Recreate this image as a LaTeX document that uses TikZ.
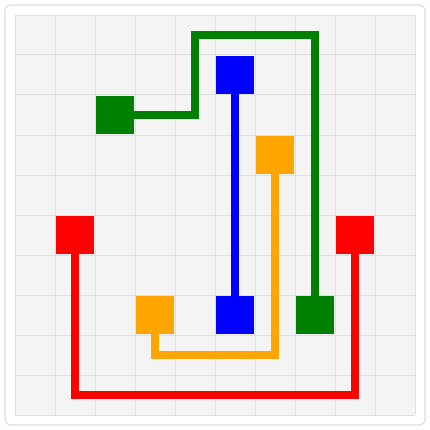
\documentclass[tikz,border=0pt]{standalone}
\usepackage{xcolor}
\usepackage{tikz}
\definecolor{cellgray}{HTML}{F4F4F4}
\definecolor{gridline}{HTML}{E0E0E0}
\definecolor{frameline}{HTML}{DDDDDD}
\definecolor{flowgreen}{HTML}{008000}
\definecolor{flowblue}{HTML}{0000FF}
\definecolor{floworange}{HTML}{FFA500}
\definecolor{flowred}{HTML}{FF0000}

\begin{document}
\begin{tikzpicture}[
    dot/.style={draw=none, minimum size=0.96cm, inner sep=0pt},
    pipe/.style={line width=0.2cm, line join=miter}
  ]
    \useasboundingbox (-0.375,-0.375) rectangle (10.375,10.375);
    \draw[frameline, line width=0.8pt, fill=white, rounded corners=0.15cm]
      (-0.25,-0.25) rectangle (10.25,10.25);
    \fill[cellgray] (0,0) rectangle (10,10);
    \draw[gridline, line width=0.7pt] (0,0) grid (10,10);
    % endpoints
    \node[dot, fill=flowgreen] (gA) at (2.5,7.5) {};
    \node[dot, fill=flowgreen] (gB) at (7.5,2.5) {};
    \node[dot, fill=flowblue] (bA) at (5.5,8.5) {};
    \node[dot, fill=flowblue] (bB) at (5.5,2.5) {};
    \node[dot, fill=floworange] (oA) at (6.5,6.5) {};
    \node[dot, fill=floworange] (oB) at (3.5,2.5) {};
    \node[dot, fill=flowred] (rA) at (1.5,4.5) {};
    \node[dot, fill=flowred] (rB) at (8.5,4.5) {};
    % bends
    \coordinate (gTurn) at (4.5,9.5);
    \coordinate (oTurn) at (3.5,1.5);
    \coordinate (rTurn) at (1.5,0.5);
    % flows
    \draw[pipe, flowgreen] (gA.east) -| (gTurn) -| (gB.north);
    \draw[pipe, flowblue] (bA.south) -- (bB.north);
    \draw[pipe, floworange] (oA.south) |- (oTurn) -- (oB.south);
    \draw[pipe, flowred] (rA.south) -- (rTurn) -| (rB.south);
  \end{tikzpicture}
\end{document}
